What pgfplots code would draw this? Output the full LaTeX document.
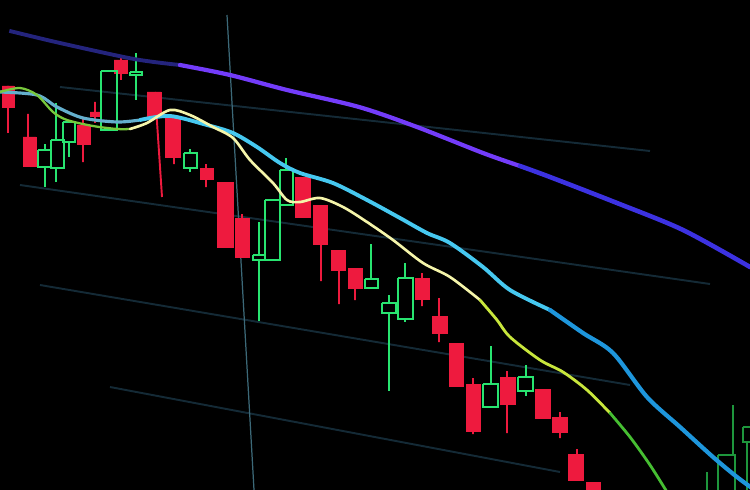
\documentclass[border=0pt]{standalone}
\usepackage{pgfplots}
\pgfplotsset{compat=1.18}
\definecolor{cred}{RGB}{238,26,62}
\definecolor{cgreen}{RGB}{40,228,112}
\definecolor{cgreendim}{RGB}{30,150,60}
\definecolor{gridc}{RGB}{20,42,54}
\definecolor{vcol}{RGB}{60,105,120}
\definecolor{pur1}{RGB}{36,36,125}
\definecolor{pur2}{RGB}{115,60,250}
\definecolor{pur3}{RGB}{60,50,225}
\definecolor{cy1}{RGB}{100,175,205}
\definecolor{cy2}{RGB}{70,200,240}
\definecolor{cy3}{RGB}{30,150,220}
\definecolor{ye1}{RGB}{120,200,60}
\definecolor{ye2}{RGB}{245,245,170}
\definecolor{ye3}{RGB}{200,230,60}
\definecolor{ye4}{RGB}{70,190,50}
\begin{document}
\begin{tikzpicture}
\begin{axis}[scale only axis, width=15cm, height=9.8cm,
  xmin=0, xmax=750, ymin=0, ymax=490, y dir=reverse,
  axis line style={draw=none}, xtick=\empty, ytick=\empty,
  axis background/.style={fill=black},
  unbounded coords=jump, clip=true]
% grid lines
\addplot[gridc, line width=1.1pt] coordinates {(60,87) (650,151) (nan,nan) (20,185) (710,284) (nan,nan) (40,285) (630,385) (nan,nan) (110,387) (560,472)};
\addplot[vcol, line width=0.7pt] coordinates {(227,15) (254,490)};
% red bodies
\addplot[fill=cred, draw=cred, line width=0.3pt] coordinates {
(2,86)(14,86)(14,107)(2,107) (nan,nan)
(23,137)(36,137)(36,166)(23,166) (nan,nan)
(77,125)(90,125)(90,144)(77,144) (nan,nan)
(90,112)(101,112)(101,116)(90,116) (nan,nan)
(114,60)(127,60)(127,73)(114,73) (nan,nan)
(147,92)(161,92)(161,117)(147,117) (nan,nan)
(165,117)(180,117)(180,157)(165,157) (nan,nan)
(200,168)(213,168)(213,179)(200,179) (nan,nan)
(217,182)(233,182)(233,247)(217,247) (nan,nan)
(235,218)(249,218)(249,257)(235,257) (nan,nan)
(295,177)(310,177)(310,217)(295,217) (nan,nan)
(313,205)(327,205)(327,244)(313,244) (nan,nan)
(331,250)(345,250)(345,270)(331,270) (nan,nan)
(348,268)(362,268)(362,288)(348,288) (nan,nan)
(415,278)(429,278)(429,299)(415,299) (nan,nan)
(432,316)(447,316)(447,333)(432,333) (nan,nan)
(449,343)(463,343)(463,386)(449,386) (nan,nan)
(466,384)(480,384)(480,431)(466,431) (nan,nan)
(500,377)(515,377)(515,404)(500,404) (nan,nan)
(535,389)(550,389)(550,418)(535,418) (nan,nan)
(552,417)(567,417)(567,432)(552,432) (nan,nan)
(568,454)(583,454)(583,480)(568,480) (nan,nan)
(586,482)(600,482)(600,500)(586,500)
};
% red wicks
\addplot[cred, line width=1.1pt] coordinates {
(8,86)(8,133) (nan,nan)
(28,114)(28,166) (nan,nan)
(83,117)(83,162) (nan,nan)
(95,102)(95,123) (nan,nan)
(121,56)(121,80) (nan,nan)
(155,92)(162,197) (nan,nan)
(174,117)(174,164) (nan,nan)
(206,164)(206,187) (nan,nan)
(242,214)(242,257) (nan,nan)
(321,244)(321,281) (nan,nan)
(339,270)(339,304) (nan,nan)
(355,288)(355,300) (nan,nan)
(422,273)(422,306) (nan,nan)
(439,298)(439,342) (nan,nan)
(473,378)(473,434) (nan,nan)
(507,371)(507,433) (nan,nan)
(560,412)(560,438) (nan,nan)
(577,449)(577,480)
};
% green hollow bodies
\addplot[cgreen, line width=1pt, line join=miter] coordinates {
(38,150)(51,150)(51,167)(38,167)(38,150) (nan,nan)
(51,140)(64,140)(64,168)(51,168)(51,140) (nan,nan)
(63,122)(75,122)(75,142)(63,142)(63,122) (nan,nan)
(101,71)(117,71)(117,130)(101,130)(101,71) (nan,nan)
(130,72)(142,72)(142,75)(130,75)(130,72) (nan,nan)
(184,153)(197,153)(197,168)(184,168)(184,153) (nan,nan)
(253,255)(265,255)(265,260)(253,260)(253,255) (nan,nan)
(265,200)(280,200)(280,260)(265,260)(265,200) (nan,nan)
(280,170)(293,170)(293,205)(280,205)(280,170) (nan,nan)
(365,279)(378,279)(378,288)(365,288)(365,279) (nan,nan)
(382,303)(396,303)(396,313)(382,313)(382,303) (nan,nan)
(398,278)(413,278)(413,319)(398,319)(398,278) (nan,nan)
(483,384)(498,384)(498,407)(483,407)(483,384) (nan,nan)
(518,377)(533,377)(533,391)(518,391)(518,377)
};
% green wicks
\addplot[cgreen, line width=1.1pt] coordinates {
(45,144)(45,150) (nan,nan) (45,167)(45,187) (nan,nan)
(56,103)(56,140) (nan,nan) (56,168)(56,182) (nan,nan)
(69,142)(69,157) (nan,nan)
(136,53)(136,72) (nan,nan) (136,75)(136,100) (nan,nan)
(190,149)(190,153) (nan,nan) (190,168)(190,172) (nan,nan)
(259,222)(259,255) (nan,nan) (259,260)(259,321) (nan,nan)
(286,158)(286,170) (nan,nan)
(371,244)(371,279) (nan,nan)
(389,295)(389,303) (nan,nan) (389,313)(389,391) (nan,nan)
(405,263)(405,278) (nan,nan) (405,319)(405,322) (nan,nan)
(491,346)(491,384) (nan,nan)
(526,365)(526,377) (nan,nan) (526,391)(526,396)
};
% blurred green candles at right edge
\addplot[cgreendim, line width=1.2pt] coordinates {
(718,455)(735,455)(735,495)(718,495)(718,455) (nan,nan)
(733,405)(733,455) (nan,nan)
(743,427)(752,427)(752,442)(743,442)(743,427) (nan,nan)
(747,442)(747,490) (nan,nan)
(707,472)(707,490)
};
% purple long moving average
\addplot[pur1, line width=2.2pt, smooth, line cap=round] coordinates {(10,31)(14,32)(60,43)(134,59)(180,65)};
\addplot[pur2, line width=2.4pt, smooth, line cap=round] coordinates {(180,65)(230,75)(287,90)(359,107)(417,127)(483,153)(520,166)};
\addplot[pur3, line width=2.6pt, smooth, line cap=round] coordinates {(520,166)(550,177)(617,203)(683,230)(750,267)};
% cyan moving average
\addplot[cy1, line width=1.8pt, smooth, line cap=round] coordinates {(0,92)(37,95)(57,107)(83,118)(117,122)(140,120)};
\addplot[cy2, line width=2.2pt, smooth, line cap=round] coordinates {(140,120)(170,116)(207,125)(233,133)(257,147)(280,163)(300,173)(333,183)(367,200)(400,218)(427,233)(450,243)(483,267)(510,290)(550,310)};
\addplot[cy3, line width=2.4pt, smooth, line cap=round] coordinates {(550,310)(583,333)(613,353)(647,397)(680,427)(713,457)(737,477)(760,494)};
% yellow moving average
\addplot[ye1, line width=1.3pt, smooth, line cap=round] coordinates {(0,92)(20,88)(37,95)(53,112)(67,120)(93,126)(117,129)(130,129)};
\addplot[ye2, line width=1.5pt, smooth, line cap=round] coordinates {(130,129)(147,123)(170,110)(190,115)(213,127)(233,138)(250,160)(273,183)(287,200)(300,202)(320,198)(343,207)(367,222)(393,240)(423,263)(450,277)(480,300)};
\addplot[ye3, line width=1.6pt, smooth, line cap=round] coordinates {(480,300)(497,320)(510,337)(540,360)(563,372)(587,390)(610,413)};
\addplot[ye4, line width=1.6pt, smooth, line cap=round] coordinates {(610,413)(630,437)(650,465)(667,492)};
\end{axis}
\end{tikzpicture}
\end{document}
